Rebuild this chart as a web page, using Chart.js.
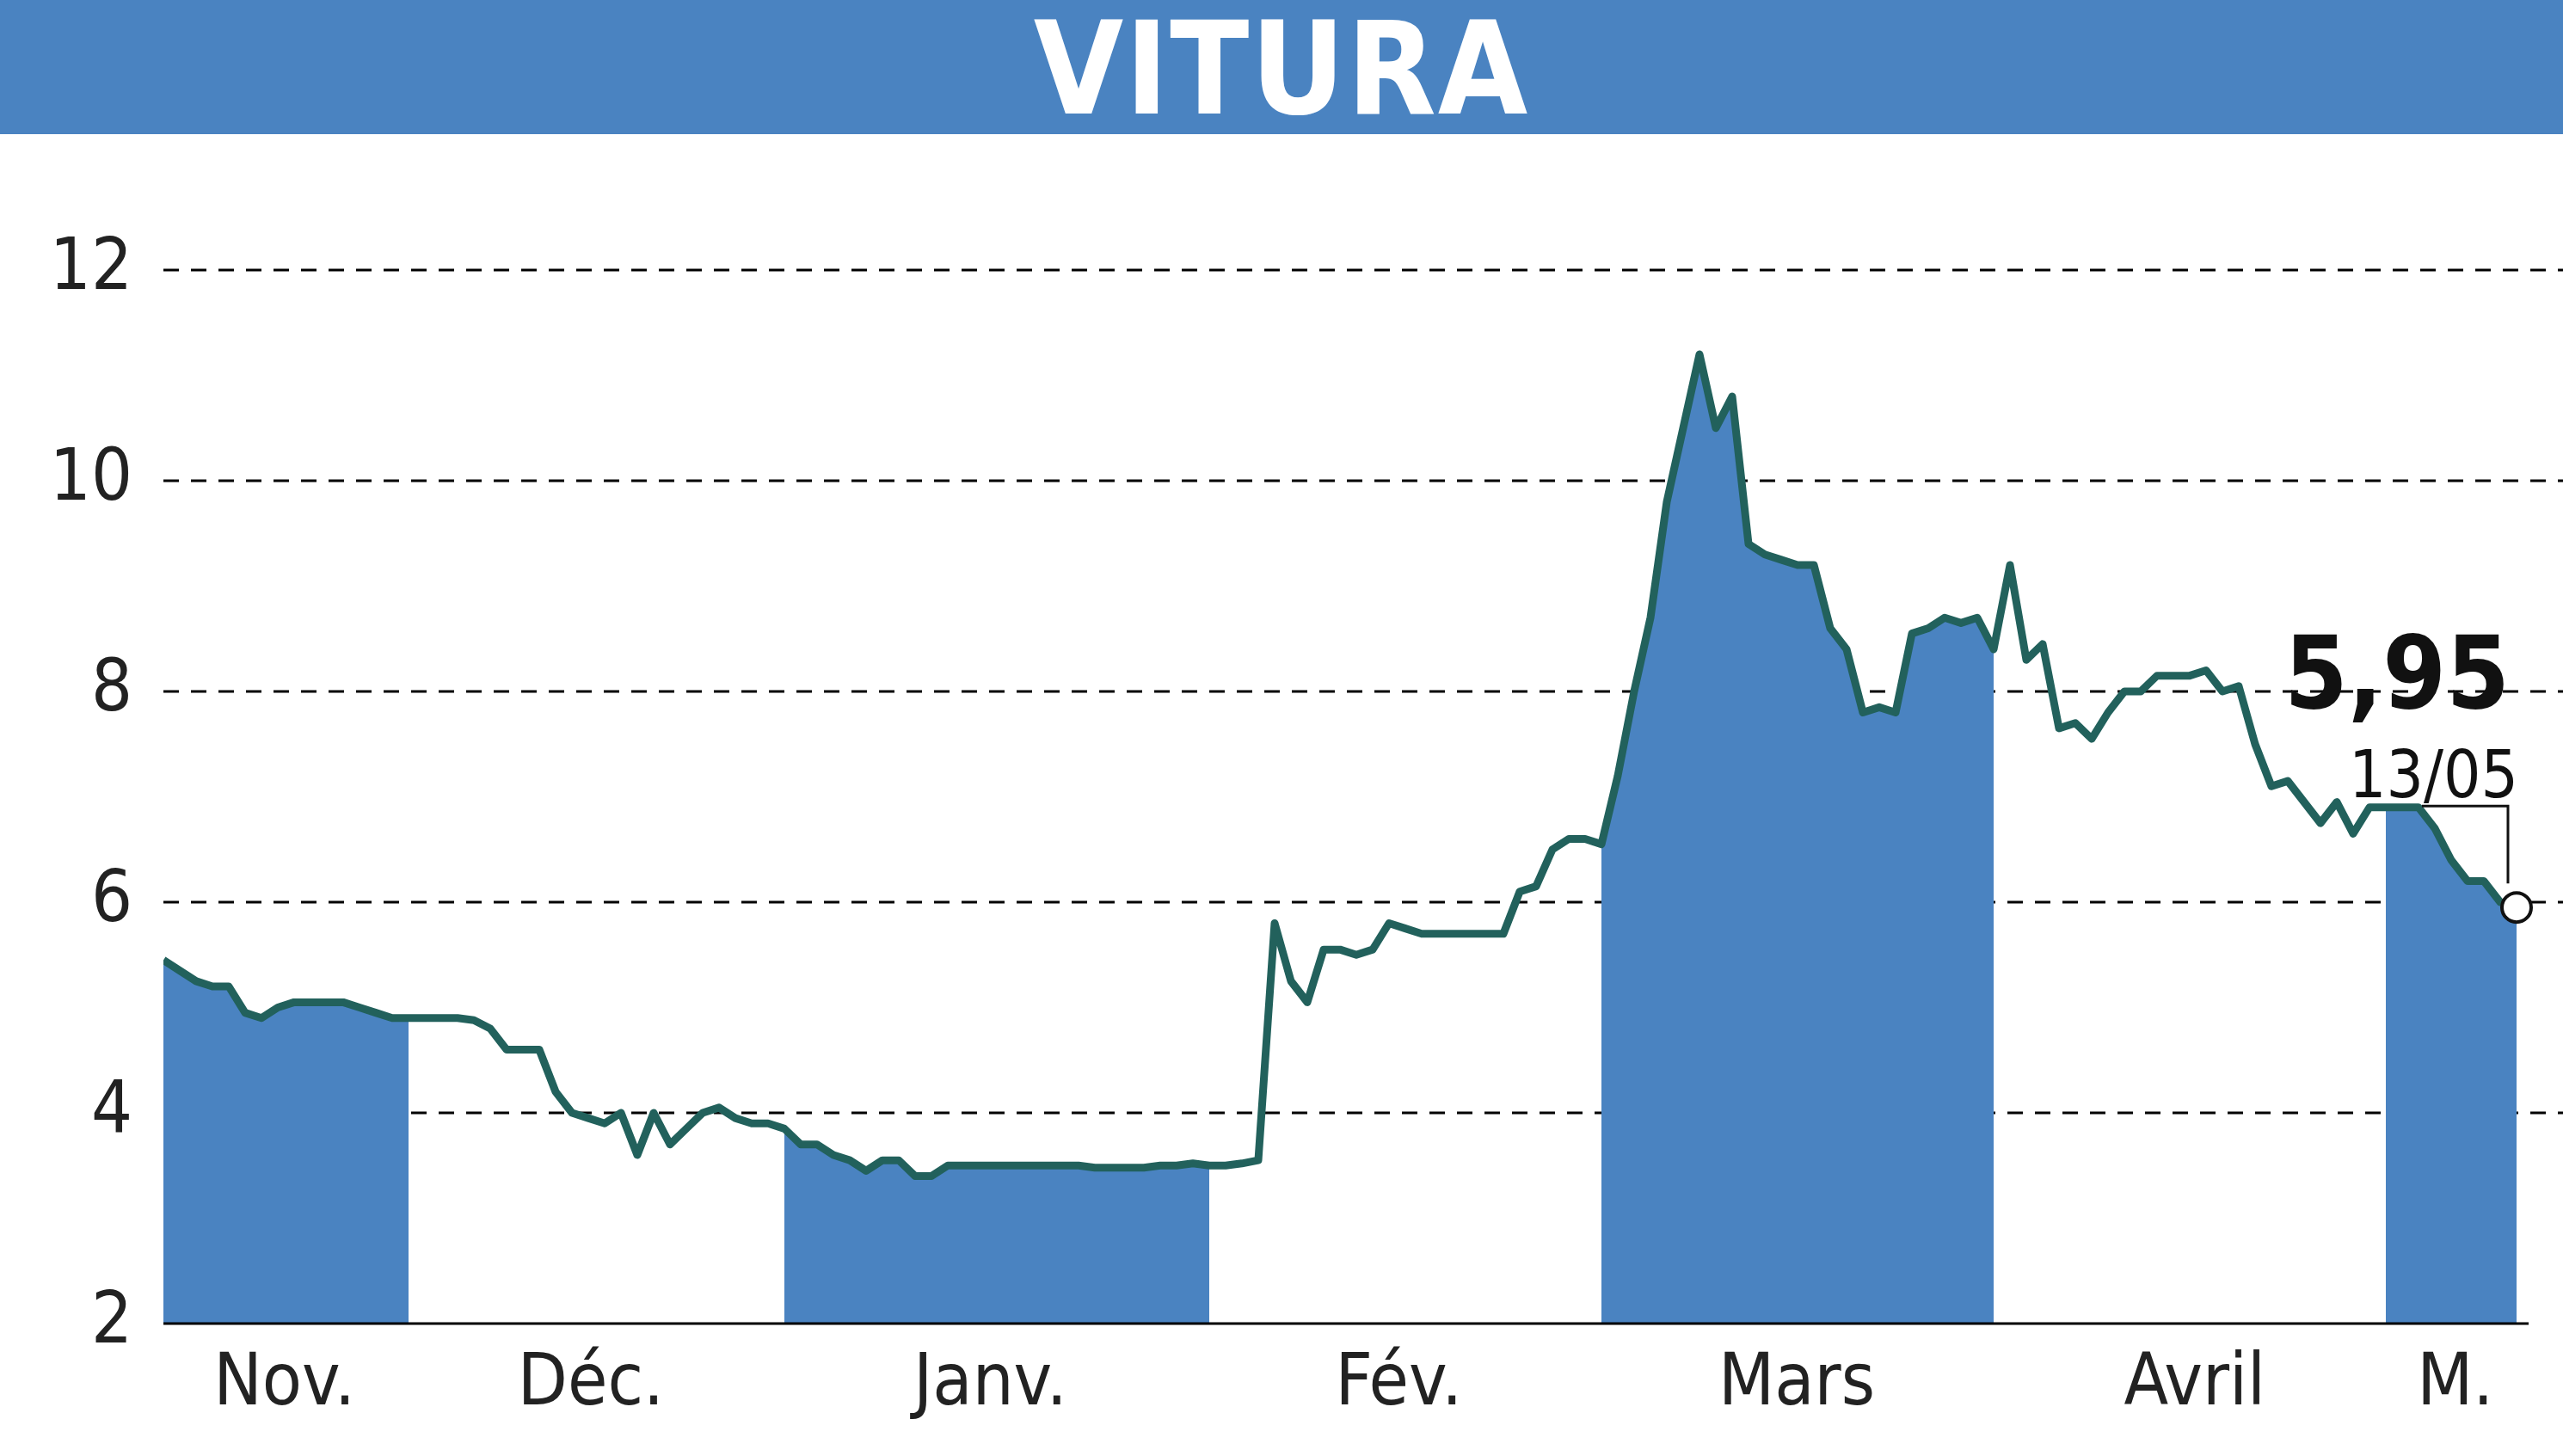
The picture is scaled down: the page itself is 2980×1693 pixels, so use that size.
<!DOCTYPE html>
<html>
<head>
<meta charset="utf-8">
<script src="https://cdn.jsdelivr.net/npm/chart.js@4.4.0/dist/chart.umd.min.js"></script>
<style>
  html, body { margin: 0; padding: 0; background: #fff; width: 2980px; height: 1693px; overflow: hidden; }
  #title { position: absolute; left: 0; top: 0; width: 2980px; height: 156px; background: #4a83c1;
           color: #fff; font: bold 150px 'Liberation Sans Narrow', 'DejaVu Sans Condensed', sans-serif;
           text-align: center; line-height: 160px; letter-spacing: 2px; }
  #wrap { position: absolute; left: 0; top: 156px; width: 2980px; height: 1537px; }
</style>
</head>
<body>
<div id="title">VITURA</div>
<div id="wrap"><canvas id="c"></canvas></div>
<script>
// cours de clôture (une valeur par séance, échantillonnée)
const prices = [
  5.45, 5.35, 5.25, 5.2, 5.2, 4.95, 4.9, 5.0, 5.05, 5.05, 5.05, 5.05, 5.0, 4.95, 4.9,
  4.9, 4.9, 4.9, 4.9, 4.88, 4.8, 4.6, 4.6, 4.6, 4.2, 4.0, 3.95, 3.9, 4.0, 3.6,
  4.0, 3.7, 3.85, 4.0, 4.05, 3.95, 3.9, 3.9, 3.85, 3.7, 3.7, 3.6, 3.55, 3.45, 3.55,
  3.55, 3.4, 3.4, 3.5, 3.5, 3.5, 3.5, 3.5, 3.5, 3.5, 3.5, 3.5, 3.48, 3.48, 3.48,
  3.48, 3.5, 3.5, 3.52, 3.5, 3.5, 3.52, 3.55, 5.8, 5.25, 5.05, 5.55, 5.55, 5.5, 5.55,
  5.8, 5.75, 5.7, 5.7, 5.7, 5.7, 5.7, 5.7, 6.1, 6.15, 6.5, 6.6, 6.6, 6.55, 7.2,
  8.0, 8.7, 9.8, 10.5, 11.2, 10.5, 10.8, 9.4, 9.3, 9.25, 9.2, 9.2, 8.6, 8.4, 7.8,
  7.85, 7.8, 8.55, 8.6, 8.7, 8.65, 8.7, 8.4, 9.2, 8.3, 8.45, 7.65, 7.7, 7.55, 7.8,
  8.0, 8.0, 8.15, 8.15, 8.15, 8.2, 8.0, 8.05, 7.5, 7.1, 7.15, 6.95, 6.75, 6.95, 6.65,
  6.9, 6.9, 6.9, 6.9, 6.7, 6.4, 6.2, 6.2, 6.0, 5.95
];
const months = ['Nov.', 'Déc.', 'Janv.', 'Fév.', 'Mars', 'Avril', 'M.'];
const monthStart = [0, 14.8, 37.5, 63.7, 87.5, 112.4, 136.2];
const monthEnd   = [14.8, 37.5, 63.7, 87.5, 112.4, 136.2, 144.3];
const shadedRanges = [[0, 15], [38, 64], [88, 112], [136, 144]];
const yTicks = [2, 4, 6, 8, 10, 12];
const lastLabel = '5,95';
const lastDate = '13/05';

const FONT = "'Liberation Sans Narrow', 'DejaVu Sans Condensed', sans-serif";
const lineData = prices.map((v, i) => ({ x: i, y: v }));
const bandData = prices.map((v, i) => ({
  x: i, y: shadedRanges.some(r => i >= r[0] && i <= r[1]) ? v : null
}));

// grille pointillée + libellés des mois + étiquette finale
const decor = {
  id: 'decor',
  beforeDatasetsDraw(chart) {
    const { ctx, scales: { y } } = chart;
    ctx.save();
    ctx.strokeStyle = '#000';
    ctx.lineWidth = 3;
    ctx.setLineDash([18, 14]);
    yTicks.slice(1).forEach(t => {
      const py = Math.round(y.getPixelForValue(t));
      ctx.beginPath(); ctx.moveTo(190, py); ctx.lineTo(2980, py); ctx.stroke();
    });
    ctx.restore();
  },
  afterDatasetsDraw(chart) {
    const { ctx, scales: { x, y }, chartArea } = chart;
    ctx.save();
    // axe du bas
    ctx.strokeStyle = '#000'; ctx.lineWidth = 3; ctx.setLineDash([]);
    ctx.beginPath(); ctx.moveTo(190, chartArea.bottom); ctx.lineTo(2940, chartArea.bottom); ctx.stroke();
    ctx.fillStyle = '#222';
    ctx.font = '84px ' + FONT;
    ctx.textAlign = 'center'; ctx.textBaseline = 'top';
    months.forEach((m, i) => {
      const cx = (x.getPixelForValue(monthStart[i]) + x.getPixelForValue(monthEnd[i])) / 2;
      ctx.fillText(m, cx, chartArea.bottom + 30);
    });
    // point final
    const last = prices.length - 1;
    const px = x.getPixelForValue(last), py = y.getPixelForValue(prices[last]);
    ctx.strokeStyle = '#111'; ctx.lineWidth = 3;
    ctx.beginPath();
    ctx.moveTo(px - 110, py - 118); ctx.lineTo(px - 10, py - 118); ctx.lineTo(px - 10, py - 28);
    ctx.stroke();
    ctx.fillStyle = '#fff'; ctx.lineWidth = 4;
    ctx.beginPath(); ctx.arc(px, py, 17, 0, Math.PI * 2); ctx.fill(); ctx.stroke();
    ctx.fillStyle = '#111'; ctx.textAlign = 'right'; ctx.textBaseline = 'alphabetic';
    ctx.font = 'bold 118px ' + FONT;
    ctx.fillText(lastLabel, px - 8, py - 232);
    ctx.font = '76px ' + FONT;
    ctx.fillText(lastDate, px + 2, py - 128);
    ctx.restore();
  }
};

new Chart(document.getElementById('c'), {
  type: 'line',
  data: {
    datasets: [
      { data: lineData, borderColor: '#22615c', borderWidth: 9, pointRadius: 0, fill: false,
        tension: 0, borderJoinStyle: 'round', order: 0 },
      { data: bandData, borderWidth: 0, pointRadius: 0, fill: 'start', backgroundColor: '#4a83c1',
        spanGaps: false, tension: 0, order: 1 }
    ]
  },
  options: {
    responsive: true, maintainAspectRatio: false, animation: false,
    devicePixelRatio: 1,
    layout: { padding: { top: 158, right: 54, left: 0, bottom: 0 } },
    plugins: { legend: { display: false }, tooltip: { enabled: false } },
    scales: {
      x: { type: 'linear', min: 0, max: 144, grid: { display: false }, border: { display: false },
           ticks: { display: false }, afterFit(s) { s.height = 154; } },
      y: { min: 2, max: 12, grid: { display: false }, border: { display: false },
           afterFit(s) { s.width = 190; },
           afterBuildTicks(s) { s.ticks = yTicks.map(v => ({ value: v })); },
           ticks: { color: '#222', padding: 28, font: { family: FONT, size: 84 } } }
    }
  },
  plugins: [decor]
});
</script>
</body>
</html>
